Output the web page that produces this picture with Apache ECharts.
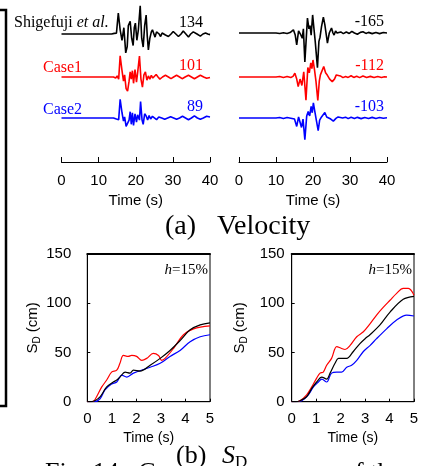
<!DOCTYPE html>
<html>
<head>
<meta charset="utf-8">
<script src="https://cdn.jsdelivr.net/npm/echarts@6/dist/echarts.min.js"></script>
<style>
html,body{margin:0;padding:0;background:#fff;}
#c{width:425px;height:466px;}
</style>
</head>
<body>
<div id="c"></div>
<script>
// ---- Velocity traces: [time (s), velocity] ----
const velA_obs = [[0,0],[13.5,0],[14.2,3],[14.5,-5],[14.8,4],[15.3,100],[15.8,20],[16.3,-30],[16.8,30],[17.3,-90],[17.7,-60],[18.0,40],[18.5,60],[18.9,-20],[19.3,-55],[19.6,30],[19.9,52],[20.3,-30],[20.7,20],[21.2,134],[21.6,-20],[22.0,-62],[22.4,40],[22.8,90],[23.1,-10],[23.4,-76],[23.8,-20],[24.2,10],[24.5,20],[24.8,5],[25.2,-15],[25.6,10],[25.9,15],[26.3,0],[26.7,-12],[27.1,5],[27.5,8],[28.0,-5],[28.8,-12],[29.5,0],[30.1,12],[30.8,0],[31.5,-12],[32.2,0],[32.8,14],[33.5,0],[34.2,-14],[34.8,0],[35.5,10],[36.5,0],[37.4,-10],[38.1,0],[38.8,5],[39.4,0],[40,-3]];
const velA_case1 = [[0,0],[14,0],[14.6,-5],[15.0,5],[15.4,-10],[15.8,101],[16.3,30],[16.7,-20],[17.0,10],[17.4,-55],[17.8,-67],[18.2,-20],[18.5,25],[18.8,-10],[19.1,30],[19.4,-30],[19.8,35],[20.2,-25],[20.5,20],[21.0,100],[21.4,-10],[21.8,-48],[22.2,10],[22.6,24],[23.0,-15],[23.4,5],[23.8,-10],[24.2,8],[24.6,-5],[25.0,3],[25.5,12],[26.0,0],[26.5,-10],[27.2,0],[28,8],[28.8,0],[29.5,-8],[30.2,0],[31,8],[31.8,0],[32.5,-8],[33.3,0],[34.2,8],[35,0],[35.8,-8],[36.6,0],[37.4,8],[38.3,0],[39.1,-6],[40,-2]];
const velA_case2 = [[0,0],[14,0],[14.6,-4],[15.0,4],[15.4,-8],[15.8,89],[16.3,25],[16.7,-15],[17.0,5],[17.4,-40],[17.8,-48],[18.2,-10],[18.5,30],[18.8,-30],[19.1,25],[19.4,-35],[19.8,20],[20.2,-20],[20.5,15],[21.0,-10],[21.3,78],[21.7,-10],[22.0,-30],[22.4,20],[22.8,10],[23.2,-10],[23.6,12],[24.0,-5],[24.5,8],[25,0],[25.6,-8],[26.2,5],[27,0],[27.8,-6],[28.6,0],[29.4,6],[30.2,0],[31,-6],[31.8,0],[32.6,8],[33.4,0],[34.2,-8],[35,0],[35.8,10],[36.6,0],[37.4,-6],[38.2,0],[39.1,8],[40,5]];

const velB_obs = [[0,0],[10,0],[10.5,2],[11,-2],[12,1],[13,-2],[13.8,2],[14.3,-3],[14.7,15],[15.2,-10],[15.6,-57],[16.1,10],[16.6,-5],[17.1,-25],[17.4,20],[17.8,-138],[18.5,71],[18.9,20],[19.2,35],[19.5,-10],[19.9,86],[20.2,30],[20.6,-40],[21.2,-165],[21.6,-40],[21.9,-20],[22.3,30],[22.8,76],[23.2,40],[23.6,-10],[23.9,-48],[24.4,0],[25,24],[25.4,0],[25.7,-10],[26.1,10],[26.5,0],[27.0,-8],[27.5,5],[28.2,-3],[29,5],[29.8,-2],[30.5,8],[31.2,0],[32,-6],[32.8,3],[33.5,6],[34.3,-2],[35,3],[36,-3],[37,2],[38,-3],[39,2],[40,0]];
const velB_case1 = [[0,0],[10,0],[11,2],[12,-2],[13,2],[14,-2],[14.6,3],[15.1,18],[15.6,-10],[16.0,-46],[16.5,-10],[17.0,-40],[17.5,25],[18.1,-110],[18.6,45],[19.0,20],[19.4,67],[19.7,40],[20.0,81],[20.4,35],[20.8,-20],[21.3,-112],[21.7,-20],[22.0,10],[22.4,15],[22.9,50],[23.4,20],[23.9,8],[24.5,-10],[25.2,-22],[25.8,-10],[26.3,10],[26.8,19],[27.4,5],[28.1,-3],[28.8,2],[29.5,-2],[30.3,6],[31,-2],[31.8,4],[32.6,-3],[33.5,5],[34.5,-2],[35.5,3],[36.5,-2],[37.5,2],[38.5,-2],[39.3,1],[40,0]];
const velB_case2 = [[0,0],[10,0],[11,2],[12,-2],[13,2],[14,-1],[14.5,5],[15.0,-5],[15.6,-40],[16.1,5],[16.5,10],[16.9,-45],[17.3,-5],[17.8,-103],[18.3,10],[18.7,31],[19.1,10],[19.5,55],[19.8,25],[20.1,72],[20.5,30],[20.9,-10],[21.4,-60],[21.8,-10],[22.3,5],[22.8,10],[23.2,26],[23.7,5],[24.1,10],[24.8,-5],[25.5,-15],[26.2,-2],[26.8,5],[27.3,8],[28,0],[28.8,4],[29.5,-3],[30.3,4],[31.2,-2],[32,3],[33,-3],[34,2],[35,-2],[36,3],[37,-2],[38,2],[39,-1],[40,1]];

// ---- Displacement response spectra S_D: [period (s), S_D (cm)], h = 15% ----
const sdA_obs = [[0,0],[0.1,0],[0.3,1],[0.52,5],[0.79,15],[1.06,20],[1.2,22],[1.33,25],[1.54,30],[1.74,29],[1.88,32],[2.15,31],[2.56,37],[2.97,44],[3.37,52],[3.78,62],[4.19,73],[4.6,78],[5,80]];
const sdA_case1 = [[0,0],[0.2,0],[0.31,2],[0.59,15],[0.79,22],[0.99,30],[1.2,32],[1.33,39],[1.47,47],[1.67,46],[1.81,47],[2.01,46],[2.22,42],[2.42,44],[2.69,49],[2.9,47],[3.03,42],[3.17,44],[3.51,54],[3.92,68],[4.33,74],[5,77]];
const sdA_case2 = [[0,0],[0.3,0],[0.52,3],[0.72,12],[0.99,18],[1.2,20],[1.4,27],[1.61,25],[1.88,29],[2.56,35],[2.97,39],[3.37,46],[3.78,52],[4.19,61],[4.6,66],[5,68]];

const sdB_obs = [[0,0],[0.15,0],[0.34,1],[0.61,5],[0.82,13.5],[1.02,20],[1.23,25],[1.43,23],[1.57,29],[1.77,39],[1.91,44],[2.11,44],[2.25,44],[2.52,51],[2.79,59],[3.0,64],[3.2,68],[3.61,78],[4.02,91],[4.56,104],[5,107]];
const sdB_case1 = [[0,0],[0.15,0],[0.34,1],[0.61,7],[0.82,15],[1.02,24],[1.16,29],[1.29,30],[1.43,37],[1.63,44],[1.84,56],[2.04,54],[2.18,53],[2.38,57],[2.66,66],[2.93,71],[3.2,79],[3.47,88],[3.75,96],[4.02,103],[4.29,110],[4.56,115],[4.77,115],[5,108]];
const sdB_case2 = [[0,0],[0.2,0],[0.41,1],[0.68,7],[0.89,15],[1.09,20],[1.23,23],[1.43,20],[1.63,29],[1.84,30],[2.04,30],[2.25,35],[2.45,37],[2.66,42],[2.93,51],[3.2,57],[3.47,64],[3.88,74],[4.29,83],[4.7,88],[5,87]];

// tick labels
const timeTicksVel = [0, 10, 20, 30, 40];
const periodTicks = [0, 1, 2, 3, 4, 5];
const sdTicks = [0, 50, 100, 150];

const traceNames = ['Shigefuji et al.', 'Case1', 'Case2'];
const colors = ['#000000', '#ff0000', '#0000ff'];

const SANS = 'Liberation Sans';
const SERIF = 'Liberation Serif';

// peak value (largest magnitude, signed) of a trace
function peakOf(arr) {
  let p = 0;
  for (const [, v] of arr) if (Math.abs(v) > Math.abs(p)) p = v;
  return p;
}

const chart = echarts.init(document.getElementById('c'), null, { renderer: 'canvas' });

const velSets = [
  { left: 61.5, width: 148.5, traces: [velA_obs, velA_case1, velA_case2], bases: [34, 77, 118], labelRight: 203 },
  { left: 239, width: 148, traces: [velB_obs, velB_case1, velB_case2], bases: [33, 77, 118], labelRight: 384 }
];
const sdSets = [
  { left: 87.3, width: 122.7, traces: [sdA_obs, sdA_case1, sdA_case2], labelMargin: 16 },
  { left: 291.7, width: 122.3, traces: [sdB_obs, sdB_case1, sdB_case2], labelMargin: 7 }
];

const grid = [], xAxis = [], yAxis = [], series = [], graphic = [];
const HALF = 21; // half height of one trace strip (px)

velSets.forEach((set) => {
  set.traces.forEach((tr, k) => {
    const gi = grid.length;
    grid.push({ left: set.left, width: set.width, top: set.bases[k] - HALF, height: 2 * HALF });
    const xi = xAxis.length, yi = yAxis.length;
    xAxis.push({ gridIndex: gi, type: 'value', min: 0, max: 40, show: false });
    yAxis.push({ gridIndex: gi, type: 'value', min: -100, max: 100, show: false });
    series.push({
      type: 'line', xAxisIndex: xi, yAxisIndex: yi, data: tr,
      showSymbol: false, symbol: 'none', clip: false, silent: true,
      lineStyle: { color: colors[k], width: 1.6 }
    });
    const pk = peakOf(tr);
    graphic.push({
      type: 'text', x: set.labelRight, y: set.bases[k] - 11,
      style: { text: String(pk), fill: colors[k], font: '16px "' + SERIF + '"', textAlign: 'right', textVerticalAlign: 'middle', verticalAlign: 'middle' }
    });
  });
  // time axis under the traces
  const gi = grid.length;
  grid.push({ left: set.left, width: set.width, top: 120, height: 42 });
  xAxis.push({
    gridIndex: gi, type: 'value', min: 0, max: 40, interval: 10,
    axisLine: { show: true, lineStyle: { color: '#000', width: 1 } },
    axisTick: { show: true, inside: true, length: 5, lineStyle: { color: '#000' } },
    axisLabel: { color: '#000', fontFamily: SANS, fontSize: 15, margin: 11,
      formatter: v => timeTicksVel.includes(v) ? String(v) : '' },
    splitLine: { show: false },
    name: 'Time (s)', nameLocation: 'middle', nameGap: 31,
    nameTextStyle: { color: '#000', fontFamily: SANS, fontSize: 15 }
  });
  yAxis.push({ gridIndex: gi, type: 'value', min: 0, max: 1, show: false });
});

sdSets.forEach((set) => {
  const gi = grid.length;
  grid.push({ left: set.left, width: set.width, top: 254, height: 147.7, show: true, borderColor: '#000', borderWidth: 1 });
  const xi = xAxis.length, yi = yAxis.length;
  xAxis.push({
    gridIndex: gi, type: 'value', min: 0, max: 5, interval: 1,
    axisLine: { show: true, onZero: false, lineStyle: { color: '#000', width: 1 } },
    axisTick: { show: true, inside: true, length: 3, lineStyle: { color: '#000' } },
    axisLabel: { color: '#000', fontFamily: SANS, fontSize: 15, margin: 10,
      formatter: v => periodTicks.includes(v) ? String(v) : '' },
    splitLine: { show: false },
    name: 'Time (s)', nameLocation: 'middle', nameGap: 29,
    nameTextStyle: { color: '#000', fontFamily: SANS, fontSize: 14 }
  });
  yAxis.push({
    gridIndex: gi, type: 'value', min: 0, max: 150, interval: 50,
    axisLine: { show: true, onZero: false, lineStyle: { color: '#000', width: 1 } },
    axisTick: { show: true, inside: true, length: 3, lineStyle: { color: '#000' } },
    axisLabel: { color: '#000', fontFamily: SANS, fontSize: 15, margin: set.labelMargin,
      formatter: v => sdTicks.includes(v) ? String(v) : '' },
    splitLine: { show: false },
    name: '{s|S}{d|D}{s| (cm)}', nameLocation: 'middle', nameGap: 42, nameRotate: 90,
    nameTextStyle: {
      color: '#000', fontFamily: SANS, fontSize: 15,
      rich: {
        s: { fontFamily: SANS, fontSize: 15, color: '#000', lineHeight: 19, verticalAlign: 'middle' },
        d: { fontFamily: SANS, fontSize: 10, color: '#000', lineHeight: 10, verticalAlign: 'bottom' }
      }
    }
  });
  // top frame edge drawn a bit heavier
  xAxis.push({
    gridIndex: gi, type: 'value', min: 0, max: 5, position: 'top',
    axisLine: { show: true, onZero: false, lineStyle: { color: '#000', width: 2 } },
    axisTick: { show: false }, axisLabel: { show: false }, splitLine: { show: false }
  });
  set.traces.forEach((tr, k) => {
    series.push({
      type: 'line', xAxisIndex: xi, yAxisIndex: yi, data: tr,
      showSymbol: false, symbol: 'none', smooth: 0.35, silent: true,
      lineStyle: { color: colors[k], width: 1.2 }, z: 3 - k
    });
  });
  // damping ratio note
  graphic.push({
    type: 'text', x: set.left + set.width - 2, y: 270,
    style: {
      text: '{i|h}{n|=15%}', textAlign: 'right', textVerticalAlign: 'middle', verticalAlign: 'middle',
      rich: {
        i: { fontFamily: SERIF, fontSize: 15, fontStyle: 'italic', fill: '#000' },
        n: { fontFamily: SERIF, fontSize: 15, fill: '#000' }
      }
    }
  });
});

// trace names
graphic.push({
  type: 'text', x: 14, y: 23,
  style: {
    text: '{n|Shigefuji }{i|et al.}', textVerticalAlign: 'middle', verticalAlign: 'middle',
    rich: {
      n: { fontFamily: SERIF, fontSize: 16, fill: '#000' },
      i: { fontFamily: SERIF, fontSize: 16, fontStyle: 'italic', fill: '#000' }
    }
  }
});
graphic.push({ type: 'text', x: 43, y: 68, style: { text: traceNames[1], fill: colors[1], font: '16px "' + SERIF + '"', textVerticalAlign: 'middle', verticalAlign: 'middle' } });
graphic.push({ type: 'text', x: 43, y: 110, style: { text: traceNames[2], fill: colors[2], font: '16px "' + SERIF + '"', textVerticalAlign: 'middle', verticalAlign: 'middle' } });

// panel captions
graphic.push({ type: 'text', x: 165, y: 227, style: { text: '(a)', fill: '#000', font: '28px "' + SERIF + '"', textVerticalAlign: 'middle', verticalAlign: 'middle' } });
graphic.push({ type: 'text', x: 217, y: 227, style: { text: 'Velocity', fill: '#000', font: '28px "' + SERIF + '"', textVerticalAlign: 'middle', verticalAlign: 'middle' } });
graphic.push({ type: 'text', x: 176, y: 456, style: { text: '(b)', fill: '#000', font: '26px "' + SERIF + '"', textVerticalAlign: 'middle', verticalAlign: 'middle' } });
graphic.push({
  type: 'text', x: 222, y: 456,
  style: {
    text: '{s|S}{d|D}', textVerticalAlign: 'middle', verticalAlign: 'middle',
    rich: {
      s: { fontFamily: SERIF, fontSize: 26, fontStyle: 'italic', fill: '#000', lineHeight: 30, verticalAlign: 'middle' },
      d: { fontFamily: SERIF, fontSize: 17, fill: '#000', lineHeight: 17, verticalAlign: 'bottom' }
    }
  }
});
// figure caption line (mostly below the page edge)
graphic.push({ type: 'text', x: 45, y: 473, style: { text: 'Fig. 14   C', fill: '#000', font: '26px "' + SERIF + '"', textVerticalAlign: 'middle', verticalAlign: 'middle' } });
graphic.push({ type: 'text', x: 342, y: 473, style: { text: 'of the', fill: '#000', font: '26px "' + SERIF + '"', textVerticalAlign: 'middle', verticalAlign: 'middle' } });

// frame bracket on the left
graphic.push({
  type: 'polyline',
  shape: { points: [[0, 10], [6, 10], [6, 406], [0, 406]] },
  style: { stroke: '#000', lineWidth: 2.5, fill: null }
});

chart.setOption({
  animation: false,
  backgroundColor: '#fff',
  grid, xAxis, yAxis, series, graphic
});
</script>
</body>
</html>
